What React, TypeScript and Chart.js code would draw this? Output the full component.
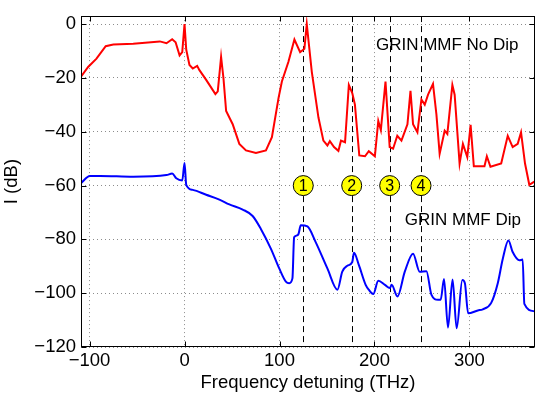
import { useEffect, useRef } from 'react';
import { Chart, registerables } from 'chart.js';

Chart.register(...registerables);

const redFreq = [
  -109, -101.5, -92.7, -83, -75, -54, -26, -19, -13, -9.4, -5.2, -2.4, 0, 1.8, 5.2, 8.7, 13.3, 15.7,
  22.8, 32.5, 35, 38.5, 41, 43.8, 50.7, 57.7, 64.7, 75.2, 85.7, 92, 99, 102.5, 109.4, 115.7, 121.7,
  126.2, 128.7, 134, 141, 146.2, 150.4, 153, 157.4, 162, 164.7, 169, 173, 176.6, 179.4, 184, 190, 194,
  200.4, 204, 206.7, 211.6, 216, 219.6, 224, 228.4, 234.7, 237.9, 240.6, 245.2, 249.4, 252.9, 256.4,
  261.6, 265.2, 268.6, 273.9, 276.7, 282, 284.4, 289.6, 293.1, 297.7, 301.2, 304.6, 315.8, 318.3,
  322.1, 333.4, 340.3, 345.5, 350.8, 354.3, 358.5, 363, 368.3,
];
const redLevel = [
  -19.5, -15.9, -12.8, -8.2, -7.6, -7.3, -6.4, -7.1, -5.6, -6.7, -11.6, -10.4, 0, -9.5, -15.2, -16.5,
  -15.5, -17.1, -20.7, -26, -25, -12.2, -20.1, -32.3, -37.2, -44.5, -46.9, -47.9, -46.9, -42, -27.4,
  -21.3, -14, -5.7, -10.4, -9.1, 0, -17.7, -34.7, -43.3, -45.1, -43.5, -45.7, -47.1, -43.3, -43.9,
  -22.6, -25.6, -29.9, -48.8, -49.1, -47.2, -49.1, -36, -39.4, -21.3, -45.7, -46.3, -41.5, -43.3,
  -37.2, -24.8, -37.2, -40.2, -28, -29.9, -26.2, -22.2, -33.5, -48.2, -39.6, -40.8, -22.6, -26.2,
  -51.8, -44.5, -49.4, -37.4, -52.8, -52.8, -49.1, -53, -51.8, -41.5, -45.7, -44.5, -40.2, -51.8,
  -59.7, -58.5,
];

const blueFreq = [
  -109, -99.7, -89, -54, -19, -13, -8.7, -2.4, 0, 1.8, 8.7, 22.8, 36.7, 47.2, 61.2, 71.7, 80.5, 91,
  99.7, 106.7, 110.2, 113.6, 115.4, 117.8, 120, 122.4, 129.4, 138.2, 150.4, 161, 166.1, 171.4, 176.6,
  178.4, 183.6, 190.7, 194, 198.7, 204, 211, 216.2, 218, 224.2, 231.9, 240.6, 247.6, 254.7, 259.9,
  266.9, 269.7, 273.2, 277.4, 282.2, 286.5, 292.5, 295.2, 298.6, 308.8, 314, 322.9, 329.8, 335.1, 341,
  345.5, 352.6, 356, 357.8, 368.3,
];
const blueLevel = [
  -59.1, -56.4, -56.4, -56.7, -56.1, -55.5, -57.3, -58.1, -51.6, -59.7, -61.6, -63.4, -65.2, -67,
  -68.9, -71.3, -76.2, -83.5, -90.8, -95.7, -96.3, -94.5, -79.2, -78.6, -78, -74.7, -75.2, -81.1,
  -90.8, -98.7, -92, -89.8, -88.4, -85, -89.6, -96.9, -98.7, -100.3, -95.4, -96.9, -98.1, -96.9,
  -101.2, -92, -85.3, -92, -91.8, -100.5, -102.4, -102.4, -94.7, -112.8, -94.9, -113, -95.1, -96.3,
  -107.5, -106.4, -106, -103.6, -96.3, -87.2, -80.4, -84.7, -87.8, -87.5, -104, -106.7,
];

const xTicks = [-100, 0, 100, 200, 300];
const yTicks = [-120, -100, -80, -60, -40, -20, 0];
const markerFreq = [125, 176, 216, 249];
const markerLabels = ['1', '2', '3', '4'];
const markerLevel = -60;
const curveLabels = ['GRIN MMF No Dip', 'GRIN MMF Dip'];
const curveLabelFreq = [201.5, 231.9];
const curveLabelLevel = [-7.9, -72.9];

const FONT = '"Liberation Sans", Arial, Helvetica, sans-serif';

const overlay = {
  id: 'overlay',
  beforeDatasetsDraw(chart: any) {
    const { ctx, chartArea: a, scales } = chart;
    const x = scales.x;
    ctx.save();
    ctx.beginPath();
    ctx.rect(a.left, a.top, a.right - a.left, a.bottom - a.top);
    ctx.clip();
    ctx.setLineDash([6, 4]);
    ctx.strokeStyle = '#000';
    ctx.lineWidth = 1;
    markerFreq.forEach((f) => {
      const px = Math.round(x.getPixelForValue(f)) + 0.5;
      ctx.beginPath();
      ctx.moveTo(px, a.top);
      ctx.lineTo(px, a.bottom);
      ctx.stroke();
    });
    ctx.restore();
  },
  afterDatasetsDraw(chart: any) {
    const { ctx, chartArea: a, scales } = chart;
    const x = scales.x;
    const y = scales.y;
    ctx.save();
    // circles
    markerFreq.forEach((f, i) => {
      const px = x.getPixelForValue(f);
      const py = y.getPixelForValue(markerLevel);
      ctx.beginPath();
      ctx.arc(px, py, 10, 0, Math.PI * 2);
      ctx.fillStyle = '#ffff00';
      ctx.fill();
      ctx.strokeStyle = '#000';
      ctx.lineWidth = 1;
      ctx.stroke();
      ctx.fillStyle = '#000';
      ctx.font = `16px ${FONT}`;
      ctx.textAlign = 'center';
      ctx.textBaseline = 'middle';
      ctx.fillText(markerLabels[i], px, py + 1);
    });
    // curve labels
    ctx.font = `17px ${FONT}`;
    ctx.textAlign = 'left';
    ctx.textBaseline = 'middle';
    ctx.fillStyle = '#000';
    curveLabels.forEach((t, i) => {
      ctx.fillText(t, x.getPixelForValue(curveLabelFreq[i]), y.getPixelForValue(curveLabelLevel[i]));
    });
    // frame
    ctx.strokeStyle = '#000';
    ctx.lineWidth = 1;
    const l = Math.round(a.left) + 0.5;
    const r = Math.round(a.right) - 0.5;
    const t = Math.round(a.top) + 0.5;
    const b = Math.round(a.bottom) - 0.5;
    ctx.strokeRect(l, t, r - l, b - t);
    // inward ticks
    const tl = 5;
    ctx.beginPath();
    xTicks.forEach((v) => {
      const px = Math.round(x.getPixelForValue(v)) + 0.5;
      ctx.moveTo(px, b);
      ctx.lineTo(px, b - tl);
      ctx.moveTo(px, t);
      ctx.lineTo(px, t + tl);
    });
    yTicks.forEach((v) => {
      const py = Math.round(y.getPixelForValue(v)) + 0.5;
      ctx.moveTo(l, py);
      ctx.lineTo(l + tl, py);
      ctx.moveTo(r, py);
      ctx.lineTo(r - tl, py);
    });
    ctx.stroke();
    ctx.restore();
  },
};

const minus = (v: any) => String(v).replace('-', '\u2212');

export default function App() {
  const ref = useRef<HTMLCanvasElement>(null);
  useEffect(() => {
    if (!ref.current) return;
    const chart = new Chart(ref.current, {
      type: 'line',
      data: {
        datasets: [
          {
            label: 'GRIN MMF No Dip',
            data: redFreq.map((f, i) => ({ x: f, y: redLevel[i] })),
            borderColor: '#ff0000',
            borderWidth: 2,
            pointRadius: 0,
            tension: 0,
          },
          {
            label: 'GRIN MMF Dip',
            data: blueFreq.map((f, i) => ({ x: f, y: blueLevel[i] })),
            borderColor: '#0000ff',
            borderWidth: 2,
            pointRadius: 0,
            cubicInterpolationMode: 'monotone',
          },
        ],
      },
      options: {
        animation: false,
        responsive: false,
        events: [],
        layout: { padding: { top: 10, right: 1, left: 0, bottom: 0 } },
        plugins: { legend: { display: false }, tooltip: { enabled: false } },
        scales: {
          x: {
            type: 'linear',
            min: -109,
            max: 369,
            afterBuildTicks: (s: any) => {
              s.ticks = xTicks.map((v) => ({ value: v }));
            },
            afterFit: (s: any) => {
              s.height = 51;
            },
            grid: { color: 'rgba(0,0,0,0.45)', drawTicks: false, tickBorderDash: [1, 3] } as any,
            border: { display: false, dash: [1, 3] } as any,
            ticks: {
              color: '#000',
              padding: 3,
              font: { family: FONT, size: 18.5 },
              callback: minus,
              maxRotation: 0,
              autoSkip: false,
            },
            title: {
              display: true,
              text: 'Frequency detuning (THz)',
              color: '#000',
              font: { family: FONT, size: 18.5 },
              padding: { top: 0, bottom: 4 },
            },
          },
          y: {
            type: 'linear',
            min: -120,
            max: 3,
            afterBuildTicks: (s: any) => {
              s.ticks = yTicks.map((v) => ({ value: v }));
            },
            afterFit: (s: any) => {
              s.width = 81;
            },
            grid: { color: 'rgba(0,0,0,0.45)', drawTicks: false },
            border: { display: false, dash: [1, 3] } as any,
            ticks: {
              color: '#000',
              padding: 5,
              font: { family: FONT, size: 18.5 },
              callback: minus,
              autoSkip: false,
            },
            title: {
              display: true,
              text: 'I (dB)',
              color: '#000',
              font: { family: FONT, size: 18.5 },
              padding: { top: 1, bottom: 0 },
            },
          },
        },
      },
      plugins: [overlay],
    });
    return () => chart.destroy();
  }, []);
  return (
    <div style={{ position: 'absolute', left: 0, top: 0, width: 536, height: 398, background: '#fff' }}>
      <canvas ref={ref} width={536} height={398} style={{ display: 'block' }} />
    </div>
  );
}
